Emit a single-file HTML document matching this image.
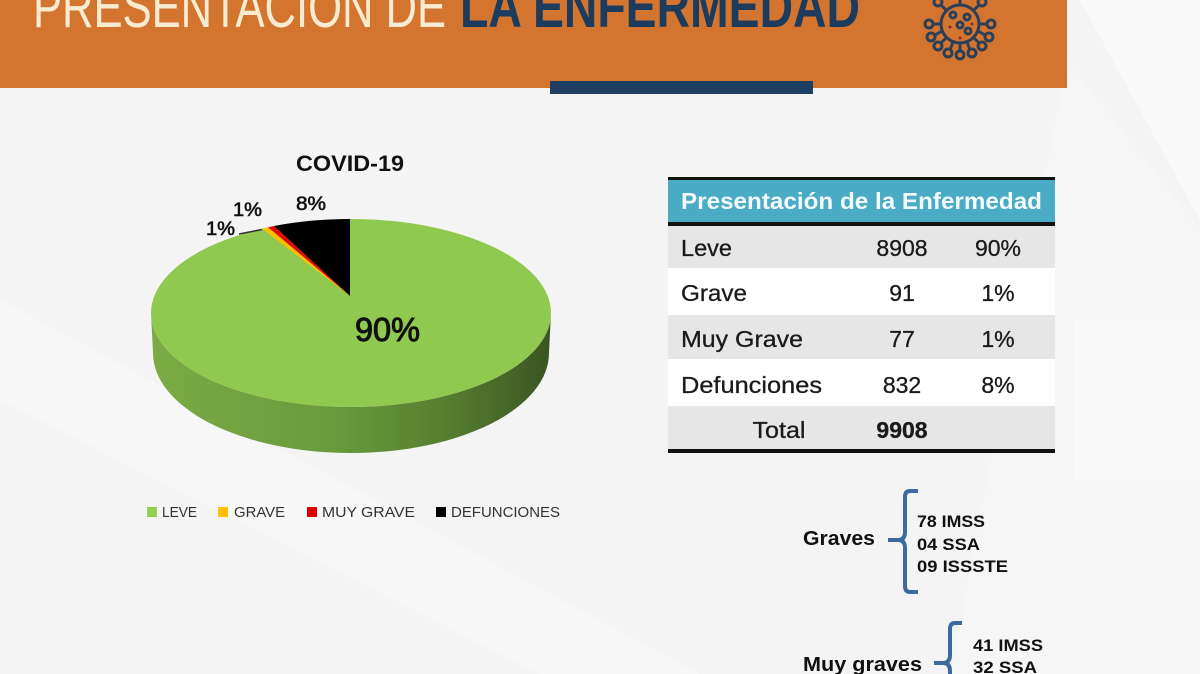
<!DOCTYPE html>
<html><head><meta charset="utf-8"><style>
html,body{margin:0;padding:0;background:#f4f4f4;}
svg{display:block;}
</style></head><body>
<svg width="1200" height="674" viewBox="0 0 1200 674" xmlns="http://www.w3.org/2000/svg" font-family="Liberation Sans, Arial, sans-serif">
<defs>
<linearGradient id="side" x1="151" y1="0" x2="551" y2="0" gradientUnits="userSpaceOnUse">
<stop offset="0" stop-color="#7aab44"/>
<stop offset="0.45" stop-color="#6a9b3b"/>
<stop offset="0.75" stop-color="#557d30"/>
<stop offset="1" stop-color="#3a5521"/>
</linearGradient>
</defs>
<!-- background -->
<rect width="1200" height="674" fill="#f4f4f4"/>
<polygon points="0,300 0,400 540,674 700,674" fill="#f8f8f8" opacity="0.7"/>
<polygon points="1080,0 1200,0 1200,220" fill="#f9f9f9"/>
<polygon points="1067,60 1200,230 1200,674 950,674" fill="#f7f7f7" opacity="0.6"/>
<rect x="1075" y="320" width="125" height="160" fill="#f9f9f9"/>

<!-- header -->
<rect x="0" y="0" width="1067" height="88" fill="#d4752f"/>
<text x="33" y="27" font-size="58" fill="#f7ecd2" textLength="413" lengthAdjust="spacingAndGlyphs">PRESENTACIÓN DE</text>
<text x="460" y="27" font-size="58" font-weight="bold" fill="#1c3b5d" textLength="400" lengthAdjust="spacingAndGlyphs">LA ENFERMEDAD</text>
<rect x="550" y="81" width="263" height="13" fill="#1e3f63"/>

<!-- virus icon -->
<g stroke="#2b3f58" stroke-width="3" fill="none">
<circle cx="960" cy="24" r="19"/>
<g>
<line x1="960" y1="5" x2="960" y2="-5"/>
<line x1="960" y1="43" x2="960" y2="51"/>
<line x1="941" y1="24" x2="933" y2="24"/>
<line x1="979" y1="24" x2="987" y2="24"/>
<line x1="947" y1="11" x2="941" y2="5"/>
<line x1="973" y1="11" x2="979" y2="5"/>
<line x1="947" y1="37" x2="941" y2="43"/>
<line x1="973" y1="37" x2="979" y2="43"/>
<line x1="942" y1="31" x2="935" y2="35"/>
<line x1="978" y1="31" x2="985" y2="35"/>
<line x1="953" y1="42" x2="950" y2="50"/>
<line x1="967" y1="42" x2="970" y2="50"/>
</g>
<circle cx="960" cy="55" r="4"/>
<circle cx="929" cy="24" r="4"/>
<circle cx="991" cy="24" r="4"/>
<circle cx="938" cy="2" r="4"/>
<circle cx="982" cy="2" r="4"/>
<circle cx="938" cy="46" r="4"/>
<circle cx="982" cy="46" r="4"/>
<circle cx="931" cy="37" r="4"/>
<circle cx="989" cy="37" r="4"/>
<circle cx="948" cy="53" r="4"/>
<circle cx="972" cy="53" r="4"/>
<circle cx="953" cy="15" r="3"/>
<circle cx="967" cy="17" r="3"/>
<circle cx="960" cy="25" r="3"/>
<circle cx="968" cy="31" r="3"/>
</g>
<g fill="#8a2a1a"><circle cx="950" cy="27" r="1.5"/><circle cx="972" cy="24" r="1.5"/><circle cx="960" cy="38" r="1.5"/></g>

<!-- pie chart -->
<text x="350" y="171" font-size="22" font-weight="bold" fill="#111" text-anchor="middle" textLength="108" lengthAdjust="spacingAndGlyphs">COVID-19</text>
<path d="M151,313 A200,94 0 0 0 551,313 L549,353 A198,100 0 0 1 153,353 Z" fill="url(#side)"/>
<ellipse cx="351" cy="313" rx="200" ry="94" fill="#8fc950"/>
<path d="M350,296 L350,219 A200,94 0 0 0 274,226 Z" fill="#000"/>
<path d="M350,296 L274,226 A200,94 0 0 0 268,227.2 Z" fill="#e00a0a"/>
<path d="M350,296 L268,227.2 A200,94 0 0 0 262,228.6 Z" fill="#ffbf00"/>
<line x1="239" y1="234" x2="262" y2="229.5" stroke="#333" stroke-width="1.5"/>
<g fill="#111" stroke="#111" stroke-width="0.6">
<text x="296" y="210" font-size="19" textLength="30" lengthAdjust="spacingAndGlyphs">8%</text>
<text x="233" y="216" font-size="19" textLength="29" lengthAdjust="spacingAndGlyphs">1%</text>
<text x="206" y="235" font-size="19" textLength="29" lengthAdjust="spacingAndGlyphs">1%</text>
<text x="355" y="341" font-size="33" stroke-width="1" textLength="65" lengthAdjust="spacingAndGlyphs">90%</text>
</g>

<!-- legend -->
<g font-size="15" fill="#333">
<rect x="147" y="507" width="10" height="10" fill="#92cf50"/>
<text x="162" y="517" textLength="35" lengthAdjust="spacingAndGlyphs">LEVE</text>
<rect x="218" y="507" width="10" height="10" fill="#ffc000"/>
<text x="234" y="517" textLength="51" lengthAdjust="spacingAndGlyphs">GRAVE</text>
<rect x="307" y="507" width="10" height="10" fill="#e00000"/>
<text x="322" y="517" textLength="93" lengthAdjust="spacingAndGlyphs">MUY GRAVE</text>
<rect x="436" y="507" width="10" height="10" fill="#000"/>
<text x="451" y="517" textLength="109" lengthAdjust="spacingAndGlyphs">DEFUNCIONES</text>
</g>

<!-- table -->
<rect x="668" y="177" width="387" height="3" fill="#111"/>
<rect x="668" y="180" width="387" height="42" fill="#4aabc5"/>
<rect x="668" y="222" width="387" height="4" fill="#111"/>
<rect x="668" y="226" width="387" height="42" fill="#e6e6e6"/>
<rect x="668" y="268" width="387" height="47" fill="#ffffff"/>
<rect x="668" y="315" width="387" height="44" fill="#e6e6e6"/>
<rect x="668" y="359" width="387" height="47" fill="#ffffff"/>
<rect x="668" y="406" width="387" height="43" fill="#e6e6e6"/>
<rect x="668" y="449" width="387" height="4" fill="#111"/>
<text x="681" y="209" font-size="23" font-weight="bold" fill="#f4fbfd" textLength="361" lengthAdjust="spacingAndGlyphs">Presentación de la Enfermedad</text>
<g font-size="23" fill="#1a1a1a" stroke="#1a1a1a" stroke-width="0.3">
<text x="681" y="256" textLength="51" lengthAdjust="spacingAndGlyphs">Leve</text>
<text x="902" y="256" text-anchor="middle">8908</text>
<text x="998" y="256" text-anchor="middle">90%</text>
<text x="681" y="301" textLength="66" lengthAdjust="spacingAndGlyphs">Grave</text>
<text x="902" y="301" text-anchor="middle">91</text>
<text x="998" y="301" text-anchor="middle">1%</text>
<text x="681" y="347" textLength="122" lengthAdjust="spacingAndGlyphs">Muy Grave</text>
<text x="902" y="347" text-anchor="middle">77</text>
<text x="998" y="347" text-anchor="middle">1%</text>
<text x="681" y="393" textLength="141" lengthAdjust="spacingAndGlyphs">Defunciones</text>
<text x="902" y="393" text-anchor="middle">832</text>
<text x="998" y="393" text-anchor="middle">8%</text>
<text x="779" y="438" text-anchor="middle" textLength="53" lengthAdjust="spacingAndGlyphs">Total</text>
<text x="902" y="438" text-anchor="middle" font-weight="bold">9908</text>
</g>

<!-- brackets -->
<g fill="none" stroke="#3d6a9e" stroke-width="4" stroke-linecap="butt">
<path d="M918,491 L910,491 Q905,491 905,497 L905,532 Q905,540 898,540 L888,540 M898,540 Q905,540 905,548 L905,586 Q905,592 910,592 L918,592"/>
<path d="M962,623 L955,623 Q950,623 950,629 L950,655 Q950,663 943,663 L934,663 M943,663 Q950,663 950,671 L950,680"/>
</g>
<g font-weight="bold" fill="#111">
<text x="803" y="545" font-size="20" textLength="72" lengthAdjust="spacingAndGlyphs">Graves</text>
<text x="917" y="527" font-size="17" textLength="68" lengthAdjust="spacingAndGlyphs">78 IMSS</text>
<text x="917" y="550" font-size="17" textLength="63" lengthAdjust="spacingAndGlyphs">04 SSA</text>
<text x="917" y="572" font-size="17" textLength="91" lengthAdjust="spacingAndGlyphs">09 ISSSTE</text>
<text x="803" y="671" font-size="20" textLength="119" lengthAdjust="spacingAndGlyphs">Muy graves</text>
<text x="973" y="651" font-size="17" textLength="70" lengthAdjust="spacingAndGlyphs">41 IMSS</text>
<text x="973" y="673" font-size="17" textLength="64" lengthAdjust="spacingAndGlyphs">32 SSA</text>
</g>
</svg>
</body></html>
